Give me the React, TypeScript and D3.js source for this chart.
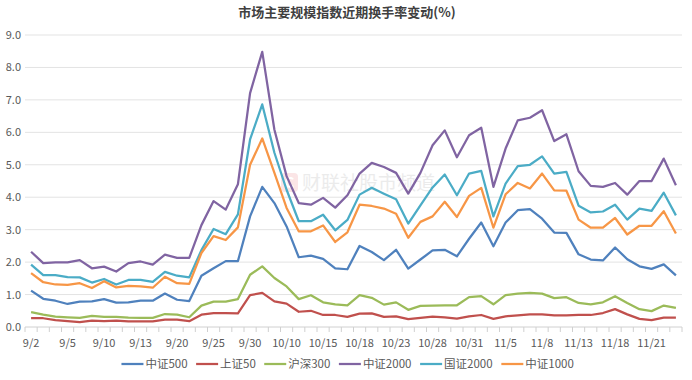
import React from "react";
import * as d3 from "d3";

const dates = ["9/2","9/3","9/4","9/5","9/6","9/9","9/10","9/11","9/12","9/13","9/18","9/19","9/20","9/23","9/24","9/25","9/26","9/27","9/30","10/8","10/9","10/10","10/11","10/14","10/15","10/16","10/17","10/18","10/21","10/22","10/23","10/24","10/25","10/28","10/29","10/30","10/31","11/1","11/4","11/5","11/6","11/7","11/8","11/11","11/12","11/13","11/14","11/15","11/18","11/19","11/20","11/21","11/22","11/25"];

const zz500 = [1.12,0.87,0.81,0.71,0.78,0.79,0.86,0.75,0.76,0.81,0.81,1.03,0.84,0.8,1.58,1.81,2.03,2.03,3.41,4.32,3.82,3.1,2.15,2.2,2.1,1.81,1.78,2.5,2.31,2.06,2.38,1.8,2.08,2.36,2.38,2.18,2.72,3.22,2.49,3.22,3.6,3.63,3.34,2.91,2.9,2.24,2.08,2.05,2.45,2.09,1.87,1.79,1.93,1.59];
const sz50 = [0.27,0.27,0.21,0.18,0.15,0.2,0.18,0.2,0.17,0.17,0.17,0.23,0.23,0.18,0.38,0.43,0.43,0.42,0.98,1.05,0.79,0.72,0.47,0.5,0.37,0.37,0.31,0.41,0.42,0.31,0.33,0.24,0.28,0.32,0.3,0.26,0.33,0.37,0.25,0.33,0.36,0.39,0.39,0.36,0.36,0.37,0.37,0.43,0.55,0.39,0.25,0.21,0.29,0.29];
const hs300 = [0.46,0.38,0.32,0.3,0.28,0.34,0.31,0.31,0.29,0.28,0.28,0.4,0.38,0.3,0.66,0.78,0.78,0.86,1.61,1.87,1.51,1.25,0.86,0.98,0.76,0.7,0.67,0.98,0.9,0.69,0.76,0.53,0.65,0.66,0.67,0.67,0.92,0.95,0.7,0.98,1.03,1.05,1.03,0.89,0.92,0.74,0.7,0.76,0.95,0.74,0.55,0.49,0.66,0.59];
const zz2000 = [2.32,1.97,1.99,1.99,2.06,1.81,1.86,1.71,1.97,2.02,1.92,2.23,2.13,2.13,3.14,3.88,3.62,4.4,7.21,8.48,6.08,4.65,3.82,3.77,3.98,3.68,4.06,4.73,5.06,4.93,4.75,4.11,4.75,5.6,6.06,5.23,5.91,6.14,4.32,5.5,6.37,6.45,6.68,5.73,5.94,4.8,4.35,4.32,4.44,4.08,4.5,4.5,5.19,4.37];
const gz2000 = [1.92,1.6,1.6,1.54,1.53,1.37,1.48,1.31,1.45,1.45,1.39,1.7,1.58,1.53,2.37,3.02,2.86,3.47,5.78,6.86,5.37,4.23,3.26,3.26,3.46,2.98,3.3,4.08,4.29,4.11,3.94,3.19,3.75,4.3,4.7,4.06,4.73,4.81,3.41,4.42,4.96,5.0,5.26,4.73,4.78,3.74,3.53,3.56,3.77,3.31,3.65,3.58,4.14,3.44];
const zz1000 = [1.66,1.38,1.31,1.3,1.35,1.2,1.41,1.22,1.27,1.25,1.21,1.55,1.35,1.33,2.28,2.8,2.68,3.07,5.0,5.81,4.75,3.67,2.95,2.95,3.13,2.62,2.92,3.77,3.73,3.65,3.49,2.75,3.24,3.41,3.86,3.39,4.04,4.29,3.06,4.09,4.44,4.27,4.73,4.21,4.2,3.31,3.06,3.06,3.36,2.85,3.12,3.12,3.57,2.88];

const seriesNames = ["中证500","上证50","沪深300","中证2000","国证2000","中证1000"];
const seriesValues = [zz500, sz50, hs300, zz2000, gz2000, zz1000];
const seriesColors = ["#4F81BD","#C0504D","#9BBB59","#8064A2","#4BACC6","#F79646"];
const yTicks = [0,1,2,3,4,5,6,7,8,9];

const W = 692, H = 380;
const font = "'Noto Sans CJK SC', 'Noto Sans', sans-serif";

export default function App() {
  const x = d3.scaleBand<string>().domain(dates).range([25, 682]).padding(0);
  const y = d3.scaleLinear().domain([0, 9]).range([327, 35]);
  const cx = (d: string) => (x(d) as number) + x.bandwidth() / 2;
  const line = d3.line<number>().x((_, i) => cx(dates[i])).y(v => y(v));

  // legend layout
  const swatch = 22, gapSw = 2, gapItem = 8, fs = 11.5;
  const textW = (s: string) => {
    let w = 0;
    for (const ch of s) w += /[\u4e00-\u9fff]/.test(ch) ? fs : fs * 0.57;
    return w;
  };
  const widths = seriesNames.map(n => swatch + gapSw + textW(n));
  const total = widths.reduce((a, b) => a + b, 0) + gapItem * (seriesNames.length - 1);
  let lx = (W - total) / 2 + 2;
  const legendItems = seriesNames.map((n, i) => {
    const item = { x: lx, name: n, color: seriesColors[i] };
    lx += widths[i] + gapItem;
    return item;
  });

  return (
    <svg width={W} height={H} style={{ position: "absolute", left: 0, top: 0, background: "#fff" }} fontFamily={font}>
      <rect x={0} y={0} width={W} height={H} fill="#fff" />
      <text x={347} y={17} textAnchor="middle" fontSize={13} fontWeight="bold" fill="#404040">市场主要规模指数近期换手率变动(%)</text>
      {/* watermark */}
      <g opacity={0.35}>
        <rect x={281} y={173} width={17} height={19} rx={4} fill="#f4b6b8" />
        <text x={289.5} y={188} textAnchor="middle" fontSize={15} fontWeight="bold" fill="#fff">C</text>
        <text x={302} y={190} fontSize={19} fill="#c8c8c8">财联社股市频道</text>
      </g>
      {yTicks.map(t => (
        <g key={t}>
          {t > 0 && <line x1={25} x2={682} y1={y(t)} y2={y(t)} stroke="#e3e3e3" strokeWidth={1} />}
          <text x={21} y={y(t) + 4} textAnchor="end" fontSize={11} fill="#595959">{t.toFixed(1)}</text>
        </g>
      ))}
      <line x1={25} x2={682} y1={y(0)} y2={y(0)} stroke="#d0d0d0" strokeWidth={1} />
      {dates.map((d, i) => (
        <line key={"tk" + i} x1={(x(d) as number)} x2={(x(d) as number)} y1={y(0)} y2={y(0) + 5} stroke="#d0d0d0" />
      ))}
      <line x1={682} x2={682} y1={y(0)} y2={y(0) + 5} stroke="#d0d0d0" />
      {dates.map((d, i) => i % 3 === 0 ? (
        <text key={"xl" + i} x={cx(d)} y={347} textAnchor="middle" fontSize={11} fill="#595959">{d}</text>
      ) : null)}
      {seriesValues.map((vals, s) => (
        <path key={s} d={line(vals) || ""} fill="none" stroke={seriesColors[s]} strokeWidth={2.25} strokeLinejoin="round" />
      ))}
      {legendItems.map((it, i) => (
        <g key={"lg" + i}>
          <line x1={it.x} x2={it.x + swatch} y1={364} y2={364} stroke={it.color} strokeWidth={2.25} />
          <text x={it.x + swatch + gapSw} y={368} fontSize={fs} fill="#595959">{it.name}</text>
        </g>
      ))}
    </svg>
  );
}
